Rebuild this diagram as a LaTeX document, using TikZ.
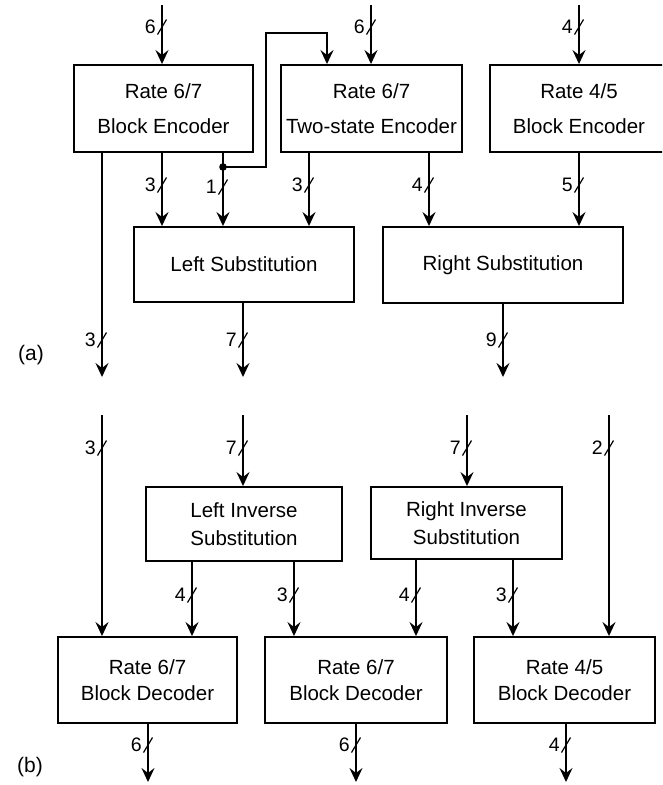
\documentclass[tikz,border=0pt]{standalone}
\usepackage{fontspec}
\setmainfont{Liberation Sans}
\usetikzlibrary{arrows.meta}
\tikzset{
  box/.style={draw, line width=1.9pt, align=center, inner sep=0pt},
  enc/.style={box, minimum height=87pt, font=\fontsize{20.5}{35}\selectfont},
  sub/.style={box, minimum height=75pt, font=\fontsize{20.5}{28}\selectfont},
  dec/.style={box, minimum height=86pt, minimum width=180pt, font=\fontsize{20.5}{26}\selectfont},
  conn/.style={line width=1.9pt, -{Stealth[length=14pt,width=13pt,inset=5pt]}},
  buslab/.style={font=\fontsize{19.5}{19.5}\selectfont, anchor=east, inner sep=0pt},
  tag/.style={font=\fontsize{21}{21}\selectfont, inner sep=0pt}
}
\newcommand{\busmark}[3]{%
  \draw[line width=1.2pt] (#1-4.5,#2+7.5) -- (#1+4.5,#2-7.5);
  \node[buslab] at (#1-6,#2) {#3};}
\begin{document}
\begin{tikzpicture}[x=1pt,y=-1pt]
\useasboundingbox (0,0) rectangle (662,785);
\clip (0,0) rectangle (662,785);
% ---------- (a) ----------
\node[enc, minimum width=179pt] (A) at (163.5,108.5) {Rate 6/7\\Block Encoder};
\node[enc, minimum width=181pt] (B) at (371.5,108.5) {Rate 6/7\\Two-state Encoder};
\node[enc, minimum width=178pt] (C) at (579,108.5) {Rate 4/5\\Block Encoder};
\node[sub, minimum width=220pt] (LS) at (244,264.5) {Left Substitution};
\node[sub, minimum width=240pt, minimum height=76pt] (RS) at (503,265) {Right Substitution};
\node[tag] (ta) at (31,355) {(a)};

\coordinate (inA) at (162,5);
\coordinate (inB) at (371,5);
\coordinate (inC) at (579,5);
\draw[conn] (inA) -- (inA |- A.north);
\draw[conn] (inB) -- (inB |- B.north);
\draw[conn] (inC) -- (inC |- C.north);
\busmark{162}{27}{6}
\busmark{371}{27}{6}
\busmark{579}{27}{4}

\coordinate (oA1) at (102,377);
\draw[conn] (oA1 |- A.south) -- (oA1);
\busmark{102}{340}{3}
\coordinate (xA2) at (162,0);
\draw[conn] (xA2 |- A.south) -- (xA2 |- LS.north);
\busmark{162}{185}{3}
\coordinate (xA3) at (223,0);
\draw[conn] (xA3 |- A.south) -- (xA3 |- LS.north);
\busmark{223}{187}{1}
\coordinate (dot) at (223,167);
\fill (dot) circle (3.8);
\coordinate (xB0) at (327,0);
\draw[conn] (dot) -- (266,167) -- (266,33) -- (327,33) -- (xB0 |- B.north);
\coordinate (xB1) at (309,0);
\draw[conn] (xB1 |- B.south) -- (xB1 |- LS.north);
\busmark{309}{185}{3}
\coordinate (xB2) at (429,0);
\draw[conn] (xB2 |- B.south) -- (xB2 |- RS.north);
\busmark{429}{185}{4}
\coordinate (xC1) at (579,0);
\draw[conn] (xC1 |- C.south) -- (xC1 |- RS.north);
\busmark{579}{185}{5}
\coordinate (oLS) at (243,377);
\draw[conn] (oLS |- LS.south) -- (oLS);
\busmark{243}{340}{7}
\coordinate (oRS) at (503,377);
\draw[conn] (oRS |- RS.south) -- (oRS);
\busmark{503}{340}{9}

% ---------- (b) ----------
\node[sub, minimum width=196pt, minimum height=74pt] (LI) at (244,524) {Left Inverse\\Substitution};
\node[sub, minimum width=191pt, minimum height=72pt] (RI) at (466.5,523) {Right Inverse\\Substitution};
\node[dec, minimum width=179pt] (D1) at (147.5,680) {Rate 6/7\\Block Decoder};
\node[dec, minimum width=182pt] (D2) at (356,680) {Rate 6/7\\Block Decoder};
\node[dec, minimum width=181pt] (D3) at (564.5,680) {Rate 4/5\\Block Decoder};
\node[tag] (tb) at (30,767) {(b)};

\coordinate (i1) at (102,415);
\draw[conn] (i1) -- (i1 |- D1.north);
\busmark{102}{448}{3}
\coordinate (i2) at (243,415);
\draw[conn] (i2) -- (i2 |- LI.north);
\busmark{243}{448}{7}
\coordinate (i3) at (467,415);
\draw[conn] (i3) -- (i3 |- RI.north);
\busmark{467}{448}{7}
\coordinate (i4) at (609,415);
\draw[conn] (i4) -- (i4 |- D3.north);
\busmark{609}{448}{2}

\coordinate (l1) at (192,0);
\draw[conn] (l1 |- LI.south) -- (l1 |- D1.north);
\busmark{192}{595}{4}
\coordinate (l2) at (294,0);
\draw[conn] (l2 |- LI.south) -- (l2 |- D2.north);
\busmark{294}{595}{3}
\coordinate (r1) at (416,0);
\draw[conn] (r1 |- RI.south) -- (r1 |- D2.north);
\busmark{416}{595}{4}
\coordinate (r2) at (513,0);
\draw[conn] (r2 |- RI.south) -- (r2 |- D3.north);
\busmark{513}{595}{3}

\coordinate (o1) at (148,782);
\draw[conn] (o1 |- D1.south) -- (o1);
\busmark{148}{745}{6}
\coordinate (o2) at (356,782);
\draw[conn] (o2 |- D2.south) -- (o2);
\busmark{356}{745}{6}
\coordinate (o3) at (566,782);
\draw[conn] (o3 |- D3.south) -- (o3);
\busmark{566}{745}{4}
\end{tikzpicture}
\end{document}
